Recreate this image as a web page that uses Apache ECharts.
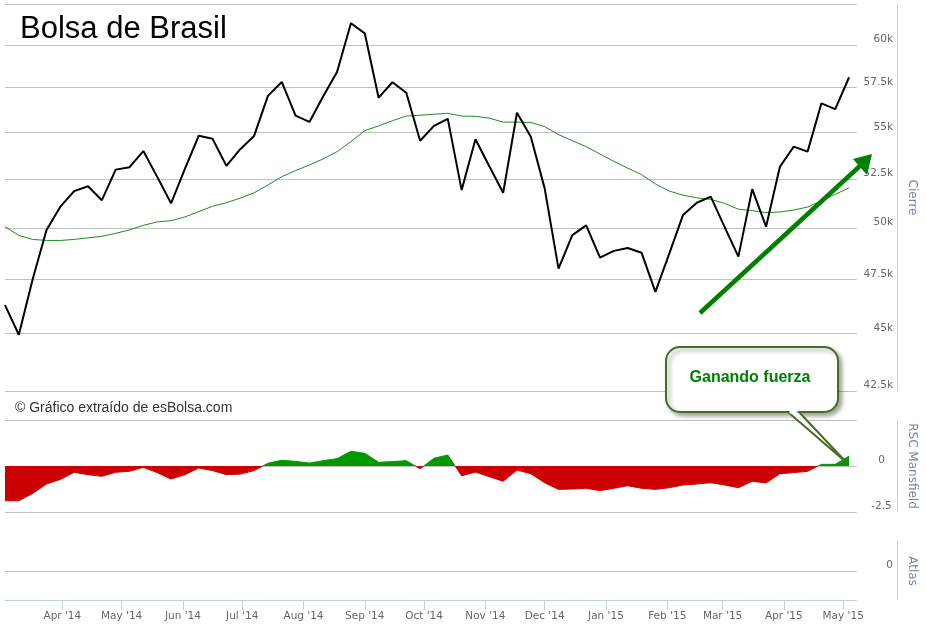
<!DOCTYPE html>
<html>
<head>
<meta charset="utf-8">
<script src="https://cdn.jsdelivr.net/npm/echarts@6/dist/echarts.min.js"></script>
<style>
html,body{margin:0;padding:0;background:#fff;}
#chart{width:926px;height:626px;}
</style>
</head>
<body>
<div id="chart"></div>
<script>
// Weekly dates (Monday of each week)
var weeks = ['2014-03-03','2014-03-10','2014-03-17','2014-03-24','2014-03-31',
  '2014-04-07','2014-04-14','2014-04-21','2014-04-28',
  '2014-05-05','2014-05-12','2014-05-19','2014-05-26',
  '2014-06-02','2014-06-09','2014-06-16','2014-06-23','2014-06-30',
  '2014-07-07','2014-07-14','2014-07-21','2014-07-28',
  '2014-08-04','2014-08-11','2014-08-18','2014-08-25',
  '2014-09-01','2014-09-08','2014-09-15','2014-09-22','2014-09-29',
  '2014-10-06','2014-10-13','2014-10-20','2014-10-27',
  '2014-11-03','2014-11-10','2014-11-17','2014-11-24',
  '2014-12-01','2014-12-08','2014-12-15','2014-12-22','2014-12-29',
  '2015-01-05','2015-01-12','2015-01-19','2015-01-26',
  '2015-02-02','2015-02-09','2015-02-16','2015-02-23',
  '2015-03-02','2015-03-09','2015-03-16','2015-03-23','2015-03-30',
  '2015-04-06','2015-04-13','2015-04-20','2015-04-27',
  '2015-05-04'];

// Cierre (weekly close)
var cierre = [46300,44950,47510,49900,51070,51870,52120,51400,52990,53120,
  53980,52610,51240,53030,54810,54650,53190,54080,54800,57030,
  57830,55920,55570,57010,58420,61310,60700,56930,57810,57210,
  54540,55350,55740,51920,54620,53170,51780,56080,54760,52010,
  48010,49640,50130,48540,48870,49010,48780,46910,48720,50650,
  51270,51580,50050,48590,51970,50060,53140,54220,53950,56610,
  56280,58100];

// Moving average (green)
var media = [50060,49630,49430,49380,49380,49430,49510,49580,49730,49900,
  50130,50300,50360,50550,50820,51090,51270,51510,51780,52180,
  52620,52940,53240,53560,53950,54490,55090,55350,55640,55900,
  55940,56000,56050,55900,55880,55780,55560,55560,55540,55310,
  54870,54540,54220,53820,53430,53070,52730,52240,51870,51660,
  51520,51440,51240,50940,50870,50770,50800,50900,51050,51370,
  51700,52040];

// RSC Mansfield
var rsc = [-1.89,-1.89,-1.49,-0.98,-0.73,-0.34,-0.47,-0.56,-0.34,-0.29,
  -0.07,-0.36,-0.71,-0.47,-0.11,-0.25,-0.47,-0.44,-0.25,0.15,
  0.31,0.25,0.16,0.29,0.40,0.80,0.69,0.20,0.24,0.29,
  -0.15,0.42,0.60,-0.53,-0.33,-0.58,-0.83,-0.22,-0.42,-0.91,
  -1.27,-1.25,-1.21,-1.34,-1.21,-1.07,-1.21,-1.27,-1.18,-1.03,
  -0.98,-0.91,-1.03,-1.18,-0.83,-0.92,-0.42,-0.36,-0.29,0.09,
  0.09,0.54];

// Month ticks and labels
var monthTicks = ['2014-04-01','2014-05-01','2014-06-01','2014-07-01','2014-08-01','2014-09-01',
  '2014-10-01','2014-11-01','2014-12-01','2015-01-01','2015-02-01','2015-03-01','2015-04-01','2015-05-01'];
var monthLabels = ["Apr '14","May '14","Jun '14","Jul '14","Aug '14","Sep '14",
  "Oct '14","Nov '14","Dec '14","Jan '15","Feb '15","Mar '15","Apr '15","May '15"];

// Price axis grid values and labels
var priceGrid = [42500,45000,47500,50000,52500,55000,57500,60000,62500];
var priceLabels = [42500,45000,47500,50000,52500,55000,57500,60000];
var rangeStart = '2014-03-03', rangeEnd = '2015-05-08';

function ts(s){ var p = s.split('-'); return Date.UTC(+p[0], +p[1]-1, +p[2]); }
var wts = weeks.map(ts);
var mts = monthTicks.map(ts);
var labelByTs = {};
mts.forEach(function(t,i){ labelByTs[t] = monthLabels[i]; });
function pair(arr){ return arr.map(function(v,i){ return [wts[i], v]; }); }

var FONT = '"DejaVu Sans", Verdana, sans-serif';
var axisLineColor = '#C0D0E0';
var gridColor = '#C0C0C0';
var labelColor = '#666666';
var titleColor = '#7488a2';
var POS = '#009900', NEG = '#CC0000';

// RSC pane geometry (grid 1): zero line sits at the middle of the pane (symmetric -2.5..2.5)
var rscTop = 420, rscHeight = 92;
var rscFill = new echarts.graphic.LinearGradient(0, rscTop, 0, rscTop + rscHeight, [
  { offset: 0, color: POS }, { offset: 0.5, color: POS },
  { offset: 0.5, color: NEG }, { offset: 1, color: NEG }
], true);

var xBase = { type:'value', min: ts(rangeStart), max: ts(rangeEnd), scale: true };
function hiddenX(gi){
  return Object.assign({}, xBase, { gridIndex: gi, show: false, splitLine: { show: false } });
}

var chart = echarts.init(document.getElementById('chart'), null, {renderer:'canvas'});
var option = {
  animation: false,
  backgroundColor: '#ffffff',
  grid: [
    { left: 5, right: 69, top: 4, height: 387 },
    { left: 5, right: 69, top: rscTop, height: rscHeight },
    { left: 5, right: 69, top: 542, height: 58 }
  ],
  xAxis: [
    hiddenX(0),
    hiddenX(1),
    Object.assign({}, xBase, {
      gridIndex: 2, position: 'bottom',
      axisLine: { show: true, onZero: false, lineStyle: { color: axisLineColor, width: 1 } },
      axisTick: { show: true, length: 10, lineStyle: { color: axisLineColor }, customValues: mts },
      axisLabel: { show: true, customValues: mts, margin: 11, color: labelColor, fontSize: 10.5, fontFamily: FONT,
        formatter: function(v){ return labelByTs[v] || ''; } },
      splitLine: { show: false }
    })
  ],
  yAxis: [
    { type: 'log', logBase: 10, gridIndex: 0, min: 42500, max: 62500, position: 'right', offset: 40,
      axisLine: { show: true, lineStyle: { color: axisLineColor, width: 1 } },
      axisTick: { show: false, customValues: priceGrid },
      axisLabel: { inside: true, margin: 4, customValues: priceLabels, color: labelColor, fontSize: 10.5, fontFamily: FONT,
        verticalAlign: 'bottom', align: 'right',
        formatter: function(v){ return (v/1000) + 'k'; } },
      splitLine: { show: true, lineStyle: { color: gridColor, width: 1 } },
      name: 'Cierre', nameLocation: 'middle', nameRotate: -90, nameGap: 5,
      nameTextStyle: { color: titleColor, fontSize: 12, fontFamily: FONT }
    },
    { type: 'value', gridIndex: 1, min: -2.5, max: 2.5, interval: 2.5, position: 'right', offset: 40,
      axisLine: { show: true, lineStyle: { color: axisLineColor, width: 1 } },
      axisTick: { show: false },
      axisLabel: { inside: true, margin: 15.5, color: labelColor, fontSize: 10.5, fontFamily: FONT,
        verticalAlign: 'bottom', align: 'center', showMaxLabel: false },
      splitLine: { show: true, lineStyle: { color: gridColor, width: 1 } },
      name: 'RSC Mansfield', nameLocation: 'middle', nameRotate: -90, nameGap: 5,
      nameTextStyle: { color: titleColor, fontSize: 12, fontFamily: FONT }
    },
    { type: 'value', gridIndex: 2, min: -1, max: 1, position: 'right', offset: 40,
      axisLine: { show: true, lineStyle: { color: axisLineColor, width: 1 } },
      axisTick: { show: false, customValues: [0] },
      axisLabel: { inside: true, margin: 4, customValues: [0], color: labelColor, fontSize: 10.5, fontFamily: FONT,
        verticalAlign: 'bottom', align: 'right' },
      splitLine: { show: true, lineStyle: { color: gridColor, width: 1 } },
      name: 'Atlas', nameLocation: 'middle', nameRotate: -90, nameGap: 5,
      nameTextStyle: { color: titleColor, fontSize: 12, fontFamily: FONT }
    }
  ],
  series: [
    { name: 'Media', type: 'line', xAxisIndex: 0, yAxisIndex: 0, data: pair(media),
      showSymbol: false, symbol: 'none', lineStyle: { color: '#1e8c1e', width: 1 }, z: 2 },
    { name: 'Cierre', type: 'line', xAxisIndex: 0, yAxisIndex: 0, data: pair(cierre),
      showSymbol: false, symbol: 'none', lineStyle: { color: '#000000', width: 2 }, z: 3 },
    { name: 'RSC Mansfield', type: 'line', xAxisIndex: 1, yAxisIndex: 1, data: pair(rsc),
      showSymbol: false, symbol: 'none', lineStyle: { width: 1, color: rscFill },
      itemStyle: { color: NEG },
      areaStyle: { opacity: 1, origin: 0, color: rscFill }, z: 2 }
  ],
  graphic: [
    { type: 'text', x: 20, y: 14, z: 100,
      style: { text: 'Bolsa de Brasil', font: '31px "Liberation Sans", Arial, sans-serif', fill: '#000000' } },
    { type: 'text', x: 15, y: 401, z: 100,
      style: { text: '\u00A9 Gr\u00E1fico extra\u00EDdo de esBolsa.com', font: '14px "Liberation Sans", Arial, sans-serif', fill: '#333333' } },
    { type: 'line', z: 100,
      shape: { x1: 700, y1: 313, x2: 861, y2: 165 },
      style: { stroke: '#008000', lineWidth: 4.5 } },
    { type: 'polygon', z: 100,
      shape: { points: [[872, 154], [853, 159], [867, 175]] },
      style: { fill: '#008000' } },
    { type: 'rect', z: 110,
      shape: { x: 666, y: 347, width: 172, height: 65, r: 14 },
      style: { fill: '#ffffff', stroke: '#4a6b22', lineWidth: 2,
        shadowBlur: 4, shadowOffsetX: 3, shadowOffsetY: 3, shadowColor: 'rgba(0,0,0,0.35)' } },
    { type: 'polygon', z: 111,
      shape: { points: [[788, 412], [847, 463], [799, 412]] },
      style: { fill: '#ffffff', stroke: '#4a6b22', lineWidth: 2, lineJoin: 'miter' } },
    { type: 'line', z: 112,
      shape: { x1: 789.5, y1: 412, x2: 797.5, y2: 412 },
      style: { stroke: '#ffffff', lineWidth: 3 } },
    { type: 'text', z: 120, x: 750, y: 378,
      style: { text: 'Ganando fuerza', font: 'bold 16px "Liberation Sans", Arial, sans-serif', fill: '#008000',
        align: 'center', verticalAlign: 'middle' } }
  ]
};
chart.setOption(option);
</script>
</body>
</html>
